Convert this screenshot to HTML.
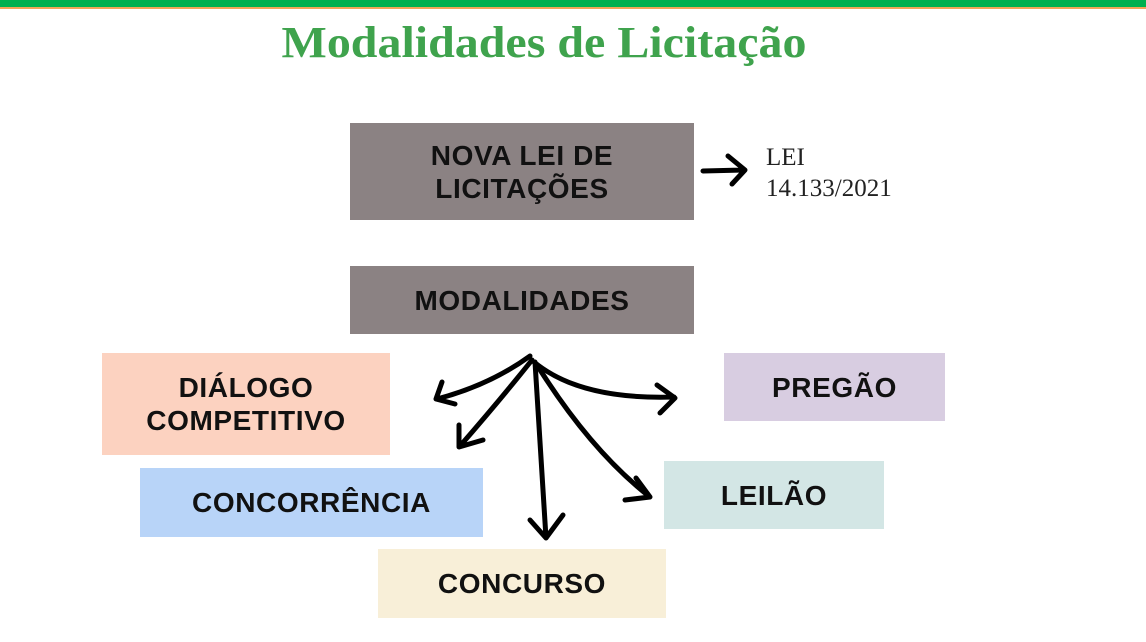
<!DOCTYPE html>
<html><head><style>
body{margin:0;width:1146px;height:642px;background:#fff;position:relative;overflow:hidden;font-family:"Liberation Sans",sans-serif}
.b{position:absolute;display:flex;align-items:center;justify-content:center;text-align:center;font-weight:bold;font-size:28px;letter-spacing:0.6px;color:#111;line-height:33px}
</style></head><body>
<div style="position:absolute;left:0;top:0;width:1146px;height:7px;background:#00b050"></div>
<div style="position:absolute;left:0;top:7px;width:1146px;height:2px;background:#f2a65a"></div>
<div style="position:absolute;left:244px;top:17px;width:600px;text-align:center;font-family:'Liberation Serif',serif;font-weight:bold;font-size:44px;color:#3fa34d;transform:scaleX(1.09);transform-origin:center">Modalidades de Licitação</div>
<div class="b" style="left:350px;top:123px;width:344px;height:97px;background:#8b8283">NOVA LEI DE<br>LICITAÇÕES</div>
<div class="b" style="left:350px;top:266px;width:344px;height:68px;background:#8b8283">MODALIDADES</div>
<div class="b" style="left:102px;top:353px;width:288px;height:102px;background:#fcd2c0">DIÁLOGO<br>COMPETITIVO</div>
<div class="b" style="left:724px;top:353px;width:221px;height:68px;background:#d8cde1">PREGÃO</div>
<div class="b" style="left:140px;top:468px;width:343px;height:69px;background:#b8d4f8">CONCORRÊNCIA</div>
<div class="b" style="left:664px;top:461px;width:220px;height:68px;background:#d3e6e5">LEILÃO</div>
<div class="b" style="left:378px;top:549px;width:288px;height:69px;background:#f8efd8">CONCURSO</div>
<div style="position:absolute;left:766px;top:142px;font-family:'Liberation Serif',serif;font-size:25px;line-height:31px;color:#222">LEI<br>14.133/2021</div>
<svg width="1146" height="642" style="position:absolute;left:0;top:0" fill="none" stroke="#000" stroke-width="5" stroke-linecap="round" stroke-linejoin="round">
<path d="M703 171 L744 170 M728 156 L745 170 L732 184"/>
<path d="M530 356 Q490 385 437 399 M442 382 L436 399 L455 404"/>
<path d="M532 360 Q500 400 460 446 M459 425 L459 447 L483 440"/>
<path d="M535 362 Q540 440 546 538 M530 520 L546 538 L563 515"/>
<path d="M537 365 Q590 450 650 497 M636 478 L650 497 L625 500"/>
<path d="M534 362 Q580 400 674 397 M657 385 L675 398 L660 413"/>
</svg>
</body></html>
